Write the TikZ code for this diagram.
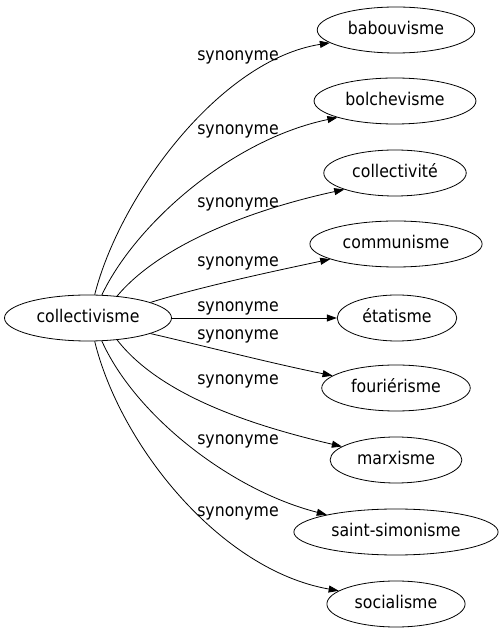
\documentclass[tikz,border=0pt]{standalone}
\usepackage{fontspec}
\setmainfont{DejaVu Sans}[FakeStretch=0.9]
\usetikzlibrary{arrows.meta,shapes.geometric}
\begin{document}
\begin{tikzpicture}[x=1pt,y=1pt,
    word/.style={draw,ellipse,line width=0.8pt,minimum height=46pt,inner xsep=7.6pt,
      text height=11pt,text depth=2pt,font=\fontsize{17.5}{20}\selectfont},
    rel/.style={anchor=base,font=\fontsize{17.5}{20}\selectfont},
    syn/.style={line width=0.8pt,-{Triangle[length=10pt,width=7pt]}}]
      \useasboundingbox (0,0) rectangle (500,635);

      \node[word] (coll) at (88,317) {collectivisme};
      \node[word] (babou) at (396,605) {babouvisme};
      \node[word] (bolch) at (395,534) {bolchevisme};
      \node[word] (collv) at (395,462) {collectivité};
      \node[word] (commu) at (396,391) {communisme};
      \node[word] (etat) at (397,317) {étatisme};
      \node[word] (fouri) at (396,247) {fouriérisme};
      \node[word] (marx) at (396,175) {marxisme};
      \node[word] (saint) at (396,103) {saint-simonisme};
      \node[word] (socia) at (396,31) {socialisme};

      \node[rel] (l1) at (238,574) {synonyme};
      \node[rel] (l2) at (238,500) {synonyme};
      \node[rel] (l3) at (238,427) {synonyme};
      \node[rel] (l4) at (238,368) {synonyme};
      \node[rel] (l5) at (238,323) {synonyme};
      \node[rel] (l6) at (238,295) {synonyme};
      \node[rel] (l7) at (238,250) {synonyme};
      \node[rel] (l8) at (238,190) {synonyme};
      \node[rel] (l9) at (238,118) {synonyme};

      \draw[syn] (coll.74) .. controls (120,440) and (220,575) .. (babou.191);
      \draw[syn] (coll.59) .. controls (135,410) and (230,495) .. (bolch.196);
      \draw[syn] (coll.37) .. controls (160,390) and (250,425) .. (collv.198);
      \draw[syn] (coll.14) .. controls (200,348) and (270,363) .. (commu.193);
      \draw[syn] (coll.east) -- (etat.west);
      \draw[syn] (coll.-14) .. controls (200,290) and (270,272) .. (fouri.169);
      \draw[syn] (coll.-37) .. controls (160,240) and (250,210) .. (marx.166);
      \draw[syn] (coll.-59) .. controls (135,220) and (230,145) .. (saint.166);
      \draw[syn] (coll.-74) .. controls (120,190) and (220,65) .. (socia.167);
    \end{tikzpicture}
\end{document}
